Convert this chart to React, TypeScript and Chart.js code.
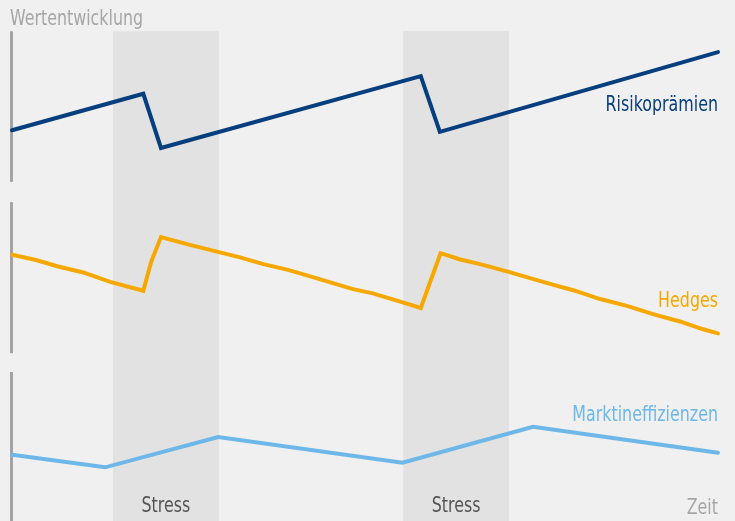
import React, { useEffect, useRef } from "react";
import { Chart, registerables } from "chart.js";

Chart.register(...registerables);

// Time axis runs 0..100, value axis 0..100 (three stacked panels)
const risikoT = [0, 18.6, 21.1, 57.9, 60.6, 100];
const risikoV = [75.0, 82.0, 71.6, 85.4, 74.7, 90.0];

const hedgesT = [0, 3.4, 6.4, 10.1, 13.9, 18.6, 19.7, 21.1, 25.2, 29.3, 32.3, 35.6, 39.1, 42.6, 48.3, 51.1, 55.0, 57.9, 60.7, 63.5, 66.3, 70.1, 76.2, 79.5, 83.3, 87.1, 90.8, 94.6, 97.9, 100];
const hedgesV = [51.1, 50.1, 48.9, 47.7, 45.9, 44.2, 49.7, 54.5, 53.0, 51.6, 50.6, 49.3, 48.2, 46.8, 44.5, 43.7, 42.1, 40.9, 51.4, 50.2, 49.3, 47.9, 45.5, 44.3, 42.6, 41.3, 39.7, 38.3, 36.8, 36.0];

const marktT = [0, 13.2, 29.2, 55.3, 73.8, 100];
const marktV = [12.7, 10.3, 16.1, 11.2, 18.1, 13.1];

const stressStart = [14.3, 55.4];
const stressEnd = [29.3, 70.4];
const stressTop = 94.0;
const stressLabel = "Stress";

const panelTop = [94.0, 61.2, 28.6];
const panelBottom = [65.1, 32.2, 0];

const seriesNames = ["Risikoprämien", "Hedges", "Marktineffizienzen"];
const seriesLabelV = [78.7, 41.1, 19.2];
const yTitle = "Wertentwicklung";
const xTitle = "Zeit";

const colors = ["#063e7e", "#f6a800", "#6db7e9"];
const FONT = '"Liberation Sans Narrow", "DejaVu Sans Condensed", sans-serif';
const SQUEEZE = 0.84;

const toPts = (t: number[], v: number[]) => t.map((x, i) => ({ x, y: v[i] }));

function narrowText(ctx: CanvasRenderingContext2D, text: string, x: number, y: number) {
  ctx.save();
  ctx.translate(x, y);
  ctx.scale(SQUEEZE, 1);
  ctx.fillText(text, 0, 0);
  ctx.restore();
}

const decorPlugin = {
  id: "decor",
  beforeDatasetsDraw(chart: any) {
    const { ctx, chartArea, scales } = chart;
    const xs = scales.x;
    const ys = scales.y;
    ctx.save();
    ctx.fillStyle = "#e2e2e2";
    for (let i = 0; i < stressStart.length; i++) {
      const x0 = xs.getPixelForValue(stressStart[i]);
      const x1 = xs.getPixelForValue(stressEnd[i]);
      const y0 = ys.getPixelForValue(stressTop);
      ctx.fillRect(x0, y0, x1 - x0, chartArea.bottom - y0);
    }
    ctx.strokeStyle = "#a3a3a3";
    ctx.lineWidth = 3;
    const ax = chartArea.left - 0.5;
    for (let i = 0; i < panelTop.length; i++) {
      ctx.beginPath();
      ctx.moveTo(ax, ys.getPixelForValue(panelTop[i]));
      ctx.lineTo(ax, ys.getPixelForValue(panelBottom[i]));
      ctx.stroke();
    }
    ctx.restore();
  },
  afterDatasetsDraw(chart: any) {
    const { ctx, chartArea, scales } = chart;
    const xs = scales.x;
    const ys = scales.y;
    ctx.save();
    ctx.font = `21px ${FONT}`;
    ctx.textBaseline = "alphabetic";
    ctx.textAlign = "center";
    ctx.fillStyle = "#555555";
    for (let i = 0; i < stressStart.length; i++) {
      const xc = (xs.getPixelForValue(stressStart[i]) + xs.getPixelForValue(stressEnd[i])) / 2;
      narrowText(ctx, stressLabel, xc, chartArea.bottom - 9);
    }
    ctx.textAlign = "right";
    for (let i = 0; i < seriesNames.length; i++) {
      ctx.fillStyle = colors[i];
      narrowText(ctx, seriesNames[i], chartArea.right, ys.getPixelForValue(seriesLabelV[i]));
    }
    ctx.fillStyle = "#a6a6a6";
    narrowText(ctx, xTitle, chartArea.right, chartArea.bottom - 7);
    ctx.textAlign = "left";
    narrowText(ctx, yTitle, chartArea.left - 2, 25);
    ctx.restore();
  },
};

export default function App() {
  const ref = useRef<HTMLCanvasElement | null>(null);
  useEffect(() => {
    document.body.style.margin = "0";
    document.body.style.background = "#f0f0f0";
    const canvas = ref.current!;
    const chart = new Chart(canvas, {
      type: "line",
      data: {
        datasets: [
          { label: seriesNames[0], data: toPts(risikoT, risikoV), borderColor: colors[0] },
          { label: seriesNames[1], data: toPts(hedgesT, hedgesV), borderColor: colors[1] },
          { label: seriesNames[2], data: toPts(marktT, marktV), borderColor: colors[2] },
        ].map((d) => ({
          ...d,
          borderWidth: 4,
          pointRadius: 0,
          tension: 0,
          fill: false,
          borderCapStyle: "round" as const,
          borderJoinStyle: "miter" as const,
          clip: false as any,
        })),
      },
      options: {
        responsive: false,
        animation: false,
        layout: { padding: { left: 12, right: 17, top: 0, bottom: 0 } },
        plugins: { legend: { display: false }, tooltip: { enabled: false } },
        scales: {
          x: { type: "linear", min: 0, max: 100, display: false },
          y: { type: "linear", min: 0, max: 100, display: false },
        },
      },
      plugins: [decorPlugin],
    });
    return () => chart.destroy();
  }, []);
  return (
    <div style={{ width: 735, height: 521, background: "#f0f0f0" }}>
      <canvas ref={ref} width={735} height={521} style={{ display: "block" }} />
    </div>
  );
}
